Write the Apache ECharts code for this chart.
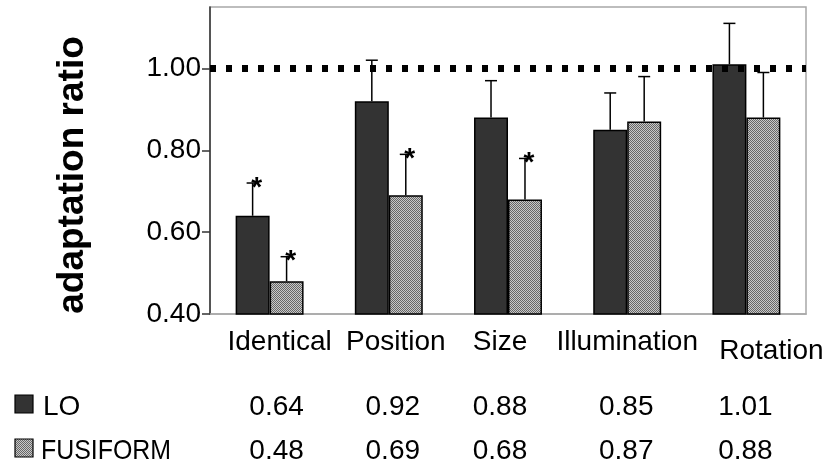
<!DOCTYPE html>
<html>
<head>
<meta charset="utf-8">
<script src="https://cdn.jsdelivr.net/npm/echarts@6/dist/echarts.min.js"></script>
<style>
  html, body { margin: 0; padding: 0; background: #fff; }
  #chart { width: 833px; height: 468px; }
</style>
</head>
<body>
<div id="chart"></div>
<script>
// ---- data ----
const categories = ['Identical', 'Position', 'Size', 'Illumination', 'Rotation'];
const seriesNames = ['LO', 'FUSIFORM'];
const loValues = [0.64, 0.92, 0.88, 0.85, 1.01];
const fusiValues = [0.48, 0.69, 0.68, 0.87, 0.88];
const loErrTop = [0.72, 1.02, 0.97, 0.94, 1.11];
const fusiErrTop = [0.54, 0.79, 0.78, 0.98, 0.99];
const loSig = [1, 0, 0, 0, 0];
const fusiSig = [1, 1, 1, 0, 0];
const yTicks = [0.4, 0.6, 0.8, 1.0];
const referenceValue = 1.0;
const yTitle = 'adaptation ratio';

// ---- layout / style config ----
const FONT = '"Liberation Sans", Arial, sans-serif';
const labelShift = [[10, 0], [7, 0], [-8, 0], [0, 0], [25, 9]]; // [dx, dy] px per axis label
const tableShift = [7, 4, -8, -1, -1]; // dx px per table column
const BAR_FRAC = 0.285;

function makePattern() {
  const c = document.createElement('canvas');
  c.width = 2; c.height = 2;
  const g = c.getContext('2d');
  g.fillStyle = '#c8c8c8'; g.fillRect(0, 0, 2, 2);
  g.fillStyle = '#666666'; g.fillRect(0, 0, 1, 1); g.fillRect(1, 1, 1, 1);
  return c;
}
const patternCanvas = makePattern();
const fusiFill = { image: patternCanvas, repeat: 'repeat' };

const rich = {};
labelShift.forEach(function (s, i) {
  const dx = s[0], dy = s[1];
  rich['c' + i] = {
    fontFamily: FONT, fontSize: 28, color: '#000',
    padding: [dy > 0 ? dy : 0, dx < 0 ? -2 * dx : 0, 0, dx > 0 ? 2 * dx : 0]
  };
});

function errRenderer(side) {
  return function (params, api) {
    const i = api.value(0);
    const top = api.coord([i, api.value(1)]);
    const base = api.coord([i, api.value(2)]);
    const band = api.size([1, 0])[0];
    const x = top[0] + side * band * BAR_FRAC / 2;
    const style = { stroke: '#000', lineWidth: 1.5 };
    const children = [
      { type: 'line', shape: { x1: x, y1: base[1], x2: x, y2: top[1] }, style: style },
      { type: 'line', shape: { x1: x - 6, y1: top[1], x2: x + 6, y2: top[1] }, style: style }
    ];
    if (api.value(3)) {
      children.push({
        type: 'text',
        style: { text: '*', x: x + 4, y: top[1] + 5, align: 'center', verticalAlign: 'middle',
                 font: 'bold 28px ' + FONT, fill: '#000' }
      });
    }
    return { type: 'group', children: children };
  };
}

const chart = echarts.init(document.getElementById('chart'), null, { renderer: 'canvas' });

const option = {
  animation: false,
  backgroundColor: '#fff',
  grid: { left: 210, right: 27, top: 7, bottom: 154, show: true,
          borderColor: '#a8a8a8', borderWidth: 1.5, backgroundColor: 'transparent' },
  xAxis: {
    type: 'category',
    data: categories,
    axisLine: { lineStyle: { color: '#a8a8a8', width: 1.5 } },
    axisTick: { show: false },
    axisLabel: {
      interval: 0, margin: 14,
      fontFamily: FONT, fontSize: 28, color: '#000',
      formatter: function (v, i) { return '{c' + i + '|' + v + '}'; },
      rich: rich
    }
  },
  yAxis: {
    type: 'value',
    min: 0.4, max: 1.15, interval: 0.2,
    splitLine: { show: false },
    axisLine: { show: true, lineStyle: { color: '#333', width: 1.5 } },
    axisTick: { show: true, length: 8, customValues: yTicks, lineStyle: { color: '#333', width: 1.5 } },
    axisLabel: { customValues: yTicks, margin: 9, fontFamily: FONT, fontSize: 28, color: '#000',
                 formatter: function (v) { return v.toFixed(2); } }
  },
  series: [
    {
      name: seriesNames[0], type: 'bar', data: loValues,
      barWidth: (BAR_FRAC * 100) + '%', barGap: '0%',
      itemStyle: { color: '#333333', borderColor: '#000', borderWidth: 1.5 },
      z: 2
    },
    {
      name: seriesNames[1], type: 'bar', data: fusiValues,
      barWidth: (BAR_FRAC * 100) + '%', barGap: '0%',
      itemStyle: { color: fusiFill, borderColor: '#000', borderWidth: 1.5 },
      z: 2,
      markLine: {
        silent: true, symbol: 'none', z: 5,
        label: { show: false },
        lineStyle: { color: '#000', width: 7, type: [6, 10], cap: 'butt' },
        data: [{ yAxis: referenceValue }]
      }
    },
    {
      type: 'custom', name: seriesNames[0] + ' err', clip: false, z: 4,
      renderItem: errRenderer(-1),
      data: categories.map(function (c, i) { return [i, loErrTop[i], loValues[i], loSig[i]]; })
    },
    {
      type: 'custom', name: seriesNames[1] + ' err', clip: false, z: 4,
      renderItem: errRenderer(1),
      data: categories.map(function (c, i) { return [i, fusiErrTop[i], fusiValues[i], fusiSig[i]]; })
    }
  ]
};
chart.setOption(option);

// ---- data table (legend + values) below the chart ----
const rows = [
  { name: seriesNames[0], values: loValues, fill: '#333333', y: 407, textX: 43, scaleX: 1 },
  { name: seriesNames[1], values: fusiValues, fill: fusiFill, y: 451, textX: 41, scaleX: 0.89 }
];
const graphics = [];
graphics.push({
  type: 'text', x: 73, y: 175, rotation: Math.PI / 2,
  style: { text: yTitle, font: 'bold 37px ' + FONT, fill: '#000', align: 'center', verticalAlign: 'middle' }
});
rows.forEach(function (r) {
  graphics.push({
    type: 'rect', shape: { x: 15, y: r.y - 12, width: 18, height: 18 },
    style: { fill: r.fill, stroke: '#000', lineWidth: 1.2 }
  });
  graphics.push({
    type: 'text', x: r.textX, y: r.y, scaleX: r.scaleX,
    style: { text: r.name, font: '28px ' + FONT, fill: '#000', align: 'left', verticalAlign: 'middle' }
  });
  r.values.forEach(function (v, i) {
    const px = chart.convertToPixel({ xAxisIndex: 0 }, i) + tableShift[i];
    graphics.push({
      type: 'text', x: px, y: r.y,
      style: { text: v.toFixed(2), font: '28px ' + FONT, fill: '#000', align: 'center', verticalAlign: 'middle' }
    });
  });
});
chart.setOption({ graphic: graphics });
</script>
</body>
</html>
